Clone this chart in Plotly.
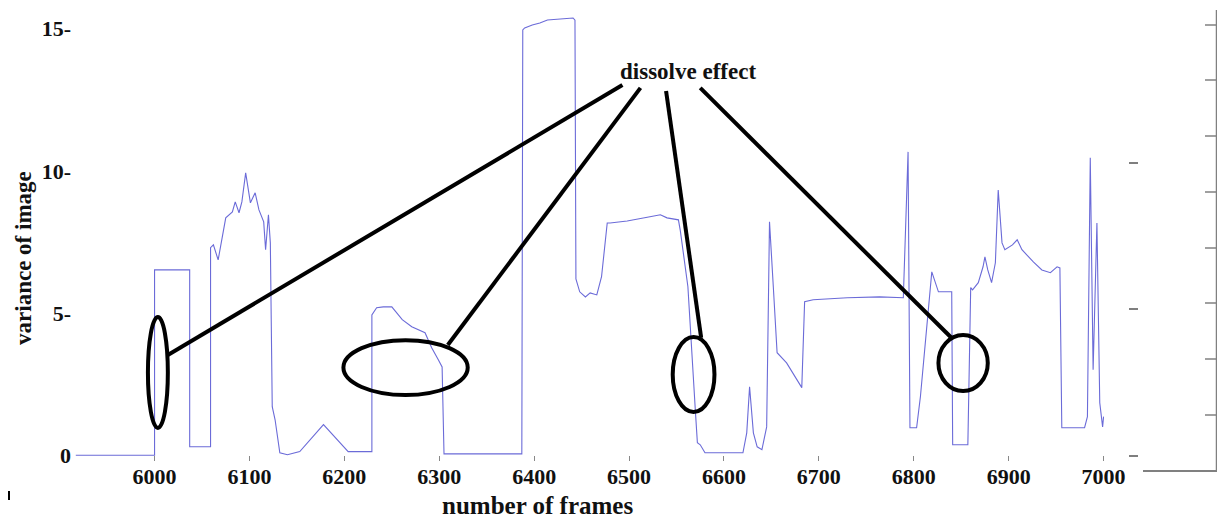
import plotly.graph_objects as go

# ---- data ----
frames = [5917, 6000, 6000, 6037, 6037, 6059, 6059, 6062, 6067, 6071, 6075, 6082, 6085, 6089,
          6092, 6096, 6101, 6106, 6110, 6115, 6117, 6120, 6122, 6124, 6127, 6132, 6140, 6153,
          6178, 6204, 6229, 6229, 6234, 6241, 6250, 6261, 6271, 6285, 6292, 6299, 6303, 6305,
          6387, 6388, 6390, 6398, 6406, 6414, 6441, 6443, 6444, 6448, 6454, 6459, 6466, 6471,
          6477, 6480, 6498, 6522, 6533, 6540, 6552, 6554, 6562, 6570, 6572, 6575, 6580, 6620,
          6624, 6627, 6631, 6635, 6640, 6645, 6648, 6652, 6656, 6666, 6682, 6685, 6694, 6730,
          6764, 6789, 6794, 6796, 6803, 6807, 6819, 6826, 6838, 6840, 6841, 6846, 6857, 6860,
          6862, 6868, 6873, 6875, 6878, 6882, 6886, 6889, 6893, 6896, 6904, 6909, 6914, 6926,
          6935, 6944, 6951, 6954, 6956, 6980, 6983, 6986, 6989, 6993, 6996, 6999, 7000]
variance = [0.0, 0.0, 6.52, 6.52, 0.30, 0.30, 7.30, 7.40, 6.87, 7.58, 8.35, 8.56, 8.91, 8.53,
            8.91, 9.93, 8.88, 9.23, 8.63, 8.21, 7.23, 8.46, 7.47, 1.71, 1.25, 0.09, 0.02, 0.13,
            1.08, 0.13, 0.13, 4.94, 5.19, 5.22, 5.22, 4.77, 4.52, 4.31, 3.78, 3.36, 3.11, 0.05,
            0.05, 14.96, 15.03, 15.13, 15.20, 15.31, 15.38, 15.30, 6.20, 5.75, 5.57, 5.71, 5.64, 6.28,
            8.17, 8.17, 8.24, 8.39, 8.46, 8.35, 8.28, 7.90, 5.93, 1.50, 0.44, 0.37, 0.09, 0.09,
            0.79, 2.41, 0.79, 0.30, 0.20, 1.00, 8.21, 5.93, 3.61, 3.25, 2.38, 5.40, 5.47, 5.54,
            5.57, 5.54, 10.67, 0.97, 0.97, 2.06, 6.45, 5.75, 5.75, 5.75, 0.37, 0.37, 0.37, 5.90,
            5.82, 6.07, 6.63, 6.98, 6.52, 6.07, 6.77, 9.33, 7.47, 7.23, 7.40, 7.58, 7.23, 6.80,
            6.52, 6.42, 6.63, 6.59, 0.97, 0.97, 1.36, 10.46, 3.01, 8.17, 1.85, 1.00, 1.36]

x_ticks = [6000, 6100, 6200, 6300, 6400, 6500, 6600, 6700, 6800, 6900, 7000]
x_tick_labels = ["6000", "6100", "6200", "6300", "6400", "6500", "6600", "6700", "6800", "6900", "7000"]
y_ticks = [0, 5, 10, 15]
y_tick_labels = ["0", "5-", "10-", "15-"]

# dissolve-effect callouts: ellipses (x0, x1, y0, y1) and leader lines (x0, y0, x1, y1)
ellipses = [(5993, 6014, 0.96, 4.86), (6199, 6330, 2.12, 4.05),
            (6546, 6590, 1.52, 4.16), (6826, 6878, 2.26, 4.23)]
leaders = [(6014, 3.53, 6493, 13.02), (6309, 3.88, 6512, 12.92),
           (6539, 12.81, 6576, 4.13), (6575, 12.92, 6841, 4.09)]
label_pos = (6562, 13.48)

# ---- layout geometry (page body adds an 8px offset) ----
OFF = 8
W, H = 1225 - OFF, 518 - OFF
ML, MR, MT, MB = 64, 5, 0, 57
PW, PH = W - ML - MR, H - MT - MB


def xp(px):  # screen px -> paper x
    return (px - OFF - ML) / PW


def yp(py):  # screen py -> paper y
    return (H - MB - (py - OFF)) / PH


FONT = "Liberation Serif"
INK = "#111"

fig = go.Figure()
fig.add_trace(go.Scatter(x=frames, y=variance, mode="lines",
                         line=dict(color="#6b6bd8", width=1.1), showlegend=False,
                         hoverinfo="skip"))

shapes = []
for x0, x1, y0, y1 in ellipses:
    shapes.append(dict(type="circle", xref="x", yref="y", x0=x0, x1=x1, y0=y0, y1=y1,
                       line=dict(color="black", width=4)))
for x0, y0, x1, y1 in leaders:
    shapes.append(dict(type="line", xref="x", yref="y", x0=x0, y0=y0, x1=x1, y1=y1,
                       line=dict(color="black", width=4)))

# leftover frame of a neighbouring panel at the right edge
grey = "#808080"
shapes.append(dict(type="line", xref="paper", yref="paper", x0=xp(1217), x1=xp(1217),
                   y0=yp(471), y1=yp(10), line=dict(color=grey, width=2.5)))
shapes.append(dict(type="line", xref="paper", yref="paper", x0=xp(1143), x1=xp(1218),
                   y0=yp(471), y1=yp(471), line=dict(color=grey, width=2)))
for py in [25, 80, 136, 192, 248, 303, 359, 415]:
    shapes.append(dict(type="line", xref="paper", yref="paper", x0=xp(1205), x1=xp(1217),
                       y0=yp(py), y1=yp(py), line=dict(color=grey, width=1.5)))
for py in [163, 309, 456]:
    shapes.append(dict(type="line", xref="paper", yref="paper", x0=xp(1129), x1=xp(1138),
                       y0=yp(py), y1=yp(py), line=dict(color="#555", width=1.5)))
shapes.append(dict(type="line", xref="paper", yref="paper", x0=xp(9), x1=xp(9),
                   y0=yp(500), y1=yp(491), line=dict(color="black", width=2)))

annotations = [
    dict(x=label_pos[0], y=label_pos[1], xref="x", yref="y", text="<b>dissolve effect</b>",
         xanchor="center", yanchor="middle",
         showarrow=False, font=dict(family=FONT, size=23, color=INK)),
    dict(x=6404, y=yp(505), xref="x", yref="paper", text="<b>number of frames</b>",
         xanchor="center", yanchor="middle",
         showarrow=False, font=dict(family=FONT, size=25, color=INK)),
    dict(x=xp(24), y=6.94, xref="paper", yref="y", text="<b>variance of image</b>",
         xanchor="center", yanchor="middle",
         textangle=-90, showarrow=False, font=dict(family=FONT, size=23, color=INK)),
]

fig.update_layout(
    width=W, height=H,
    margin=dict(l=ML, r=MR, t=MT, b=MB, autoexpand=False),
    paper_bgcolor="white", plot_bgcolor="white",
    shapes=shapes, annotations=annotations,
    xaxis=dict(range=[5913, 7122.7], tickvals=x_ticks, ticktext=x_tick_labels,
               ticks="inside", ticklen=5, tickcolor="#888", tickwidth=1,
               showgrid=False, zeroline=False, showline=False,
               tickfont=dict(family=FONT, size=22, color=INK, weight="bold")),
    yaxis=dict(range=[-0.2, 15.73], tickvals=y_ticks, ticktext=y_tick_labels,
               ticks="", showgrid=False, zeroline=False, showline=False,
               tickfont=dict(family=FONT, size=22, color=INK, weight="bold")),
)

fig.write_html("out.html")
